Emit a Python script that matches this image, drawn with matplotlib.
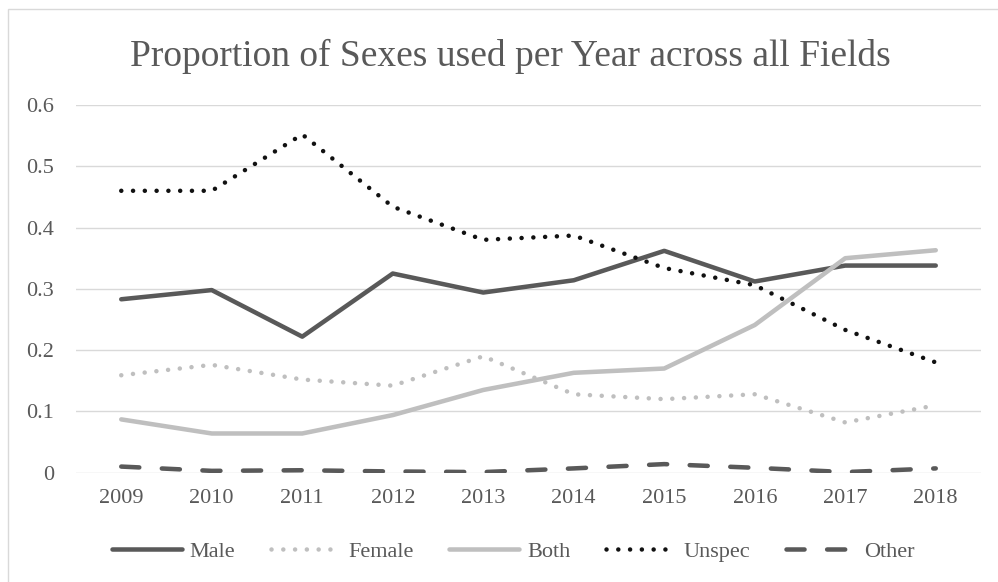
import matplotlib
matplotlib.use('Agg')
import matplotlib.pyplot as plt
from matplotlib.patches import Rectangle

# Datos
anios = ['2009', '2010', '2011', '2012', '2013', '2014', '2015', '2016', '2017', '2018']
male = [0.283, 0.298, 0.222, 0.325, 0.294, 0.314, 0.362, 0.312, 0.338, 0.338]
female = [0.159, 0.176, 0.152, 0.142, 0.190, 0.128, 0.120, 0.128, 0.082, 0.110]
both = [0.087, 0.064, 0.064, 0.094, 0.135, 0.163, 0.170, 0.241, 0.350, 0.363]
unspec = [0.460, 0.460, 0.552, 0.434, 0.380, 0.387, 0.334, 0.306, 0.233, 0.180]
other = [0.010, 0.003, 0.004, 0.002, 0.001, 0.007, 0.014, 0.008, 0.001, 0.007]
y_ticks = [0, 0.1, 0.2, 0.3, 0.4, 0.5, 0.6]
y_labels = ['0', '0.1', '0.2', '0.3', '0.4', '0.5', '0.6']

plt.rcParams['font.family'] = ['Liberation Serif', 'DejaVu Serif']
gris_texto = '#595959'

fig = plt.figure(figsize=(9.98, 5.82), dpi=100)
# marco del grafico
fig.patches.append(Rectangle((8 / 998, -0.1), 1.2, 1 - 9 / 582 + 0.1, transform=fig.transFigure,
                             fill=False, edgecolor='#d9d9d9', linewidth=1.0))

ax = fig.add_axes([76 / 998, 1 - 472.7 / 582, (981 - 76) / 998, (472.7 - 105) / 582])
x = list(range(len(anios)))
lw = 3.25

ax.plot(x, male, color='#595959', linewidth=lw, solid_capstyle='round', solid_joinstyle='round', label='Male')
ax.plot(x, female, color='#bfbfbf', linewidth=lw, linestyle=(0, (0.01, 2.6)), dash_capstyle='round', label='Female')
ax.plot(x, both, color='#bfbfbf', linewidth=lw, solid_capstyle='round', solid_joinstyle='round', label='Both')
ax.plot(x, unspec, color='#111111', linewidth=lw, linestyle=(0, (0.01, 2.6)), dash_capstyle='round', label='Unspec')
ax.plot(x, other, color='#595959', linewidth=lw, linestyle=(0, (4, 5)), dash_capstyle='round', label='Other')

ax.set_xlim(-0.5, len(anios) - 0.5)
ax.set_ylim(0, 0.6)
ax.set_xticks(x)
ax.set_xticklabels(anios)
ax.set_yticks(y_ticks)
ax.set_yticklabels(y_labels)
ax.tick_params(axis='both', length=0, labelsize=16, labelcolor=gris_texto)
ax.tick_params(axis='y', pad=16)
ax.tick_params(axis='x', pad=12)
ax.grid(axis='y', color='#d9d9d9', linewidth=1.0)
ax.set_axisbelow(True)
for s in ax.spines.values():
    s.set_visible(False)

fig.text(0.511, 1 - 56 / 582, 'Proportion of Sexes used per Year across all Fields',
         ha='center', va='center', fontsize=27, color=gris_texto)

leg = fig.legend(loc='center', bbox_to_anchor=(0.514, 1 - 552 / 582), ncol=5, frameon=False,
                 fontsize=16, handlelength=3.15, handletextpad=0.35, columnspacing=1.6)
for t in leg.get_texts():
    t.set_color(gris_texto)

fig.savefig('out.png', dpi=100)
